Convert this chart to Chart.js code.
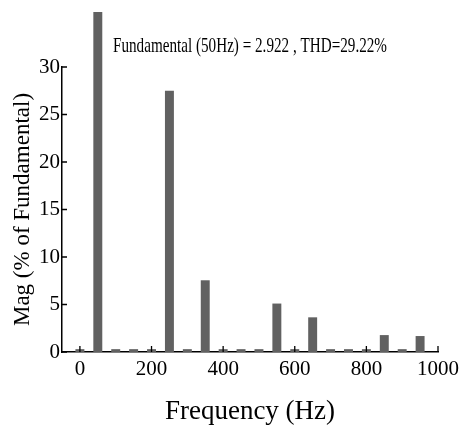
<!DOCTYPE html>
<html>
<head>
<meta charset="utf-8">
<script src="https://cdn.jsdelivr.net/npm/chart.js@4"></script>
<style>
  html, body { margin: 0; padding: 0; background: #fff; }
  #wrap { width: 467px; height: 426px; }
</style>
</head>
<body>
<div id="wrap"><canvas id="spectrum"></canvas></div>
<script>
// harmonic frequencies (Hz) and magnitude (% of fundamental)
const freqs = [0, 50, 100, 150, 200, 250, 300, 350, 400, 450, 500, 550, 600, 650, 700, 750, 800, 850, 900, 950];
const mags = [0.3, 100, 0.3, 0.3, 0.3, 27.5, 0.3, 7.55, 0.3, 0.3, 0.3, 5.1, 0.3, 3.65, 0.3, 0.3, 0.3, 1.78, 0.3, 1.68];
const xTicks = [0, 200, 400, 600, 800, 1000];
const yTicks = [0, 5, 10, 15, 20, 25, 30];
const note = "Fundamental (50Hz) = 2.922 , THD=29.22%";

const serif = "'Liberation Serif', 'Times New Roman', serif";

// inward tick marks + the condensed annotation text
const decorPlugin = {
  id: "decor",
  afterDraw(chart) {
    const ctx = chart.ctx;
    const x = chart.scales.x, y = chart.scales.y;
    const y0 = y.getPixelForValue(0);
    ctx.save();
    ctx.strokeStyle = "#000";
    ctx.lineWidth = 1.3;
    ctx.beginPath();
    xTicks.forEach((v) => {
      const px = x.getPixelForValue(v);
      ctx.moveTo(px, y0);
      ctx.lineTo(px, y0 - 6);
    });
    yTicks.forEach((v) => {
      const py = y.getPixelForValue(v);
      ctx.moveTo(x.left, py);
      ctx.lineTo(x.left + 5, py);
    });
    ctx.stroke();

    // annotation, squeezed to match the narrow font in the original
    ctx.font = "21px " + serif;
    ctx.fillStyle = "#000";
    ctx.textBaseline = "alphabetic";
    const w = ctx.measureText(note).width;
    ctx.translate(113, 52);
    ctx.scale(274 / w, 1);
    ctx.fillText(note, 0, 0);
    ctx.restore();
  },
};

new Chart(document.getElementById("spectrum"), {
  type: "bar",
  data: {
    datasets: [
      {
        data: freqs.map((f, i) => ({ x: f, y: mags[i] })),
        backgroundColor: "#616161",
        borderWidth: 0,
        barPercentage: 0.5,
        categoryPercentage: 1,
        clip: { left: 5, top: 55, right: 5, bottom: 0 },
      },
    ],
  },
  options: {
    responsive: true,
    maintainAspectRatio: false,
    animation: false,
    layout: { padding: { top: 67, right: 29, left: 0, bottom: 0 } },
    plugins: { legend: { display: false }, tooltip: { enabled: false } },
    scales: {
      x: {
        type: "linear",
        min: -50,
        max: 1000,
        offset: false,
        afterBuildTicks: (scale) => {
          scale.ticks = xTicks.map((v) => ({ value: v }));
        },
        afterFit: (scale) => {
          scale.height = 74;
        },
        grid: { display: false, drawTicks: false },
        border: { display: true, color: "#000", width: 1.5 },
        ticks: {
          color: "#000",
          font: { family: serif, size: 21 },
          padding: 5,
          maxRotation: 0,
          autoSkip: false,
          callback: (v) => String(v),
        },
        title: {
          display: true,
          text: "Frequency (Hz)",
          color: "#000",
          font: { family: serif, size: 27 },
          padding: { top: 0, bottom: -2 },
        },
      },
      y: {
        min: 0,
        max: 30,
        afterBuildTicks: (scale) => {
          scale.ticks = yTicks.map((v) => ({ value: v }));
        },
        afterFit: (scale) => {
          scale.width = 62;
        },
        grid: { display: false, drawTicks: false },
        border: { display: true, color: "#000", width: 1.5 },
        ticks: {
          color: "#000",
          font: { family: serif, size: 21 },
          padding: 2,
          callback: (v) => String(v),
        },
        title: {
          display: true,
          text: "Mag (% of Fundamental)",
          color: "#000",
          font: { family: serif, size: 23 },
          padding: { top: 9, bottom: 0 },
        },
      },
    },
  },
  plugins: [decorPlugin],
});
</script>
</body>
</html>
